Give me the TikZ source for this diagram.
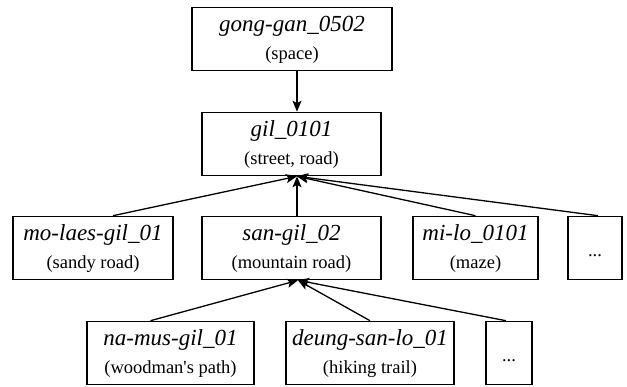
\documentclass[tikz,border=0pt]{standalone}
\usepackage{fontspec}
\setmainfont{Liberation Serif}
\newfontfamily\tnr{Liberation Serif}
\usetikzlibrary{arrows.meta}
\tikzset{
  box/.style={draw, line width=1.6pt, rectangle, minimum height=63pt, inner sep=0pt},
  ttl/.style={anchor=base, inner sep=0pt, font=\tnr\fontsize{23}{23}\selectfont\itshape},
  sub/.style={anchor=base, inner sep=0pt, font=\tnr\fontsize{18.5}{18.5}\selectfont},
  dotsl/.style={anchor=base, inner sep=0pt, font=\tnr\fontsize{18.5}{18.5}\selectfont},
  conn/.style={line width=1.3pt, -{Stealth[length=11pt,width=9pt,inset=2.5pt]}}
}
\newcommand\tbox[6]{%
  \node[box, minimum width=#4pt] (#1) at (#2,#3) {};
  \node[ttl] (#1-t) at ([yshift=7.5pt]#1.center) {#5};
  \node[sub] (#1-s) at ([yshift=-20pt]#1.center) {#6};
}
\newcommand\dbox[4]{%
  \node[box, minimum width=#4pt] (#1) at (#2,#3) {};
  \node[dotsl] (#1-t) at ([yshift=-8pt]#1.center) {...};
}
\begin{document}
\begin{tikzpicture}[x=1pt,y=-1pt]
\useasboundingbox (0,0) rectangle (627,386);
\tbox{top}{292}{39}{200}{gong-gan\_0502}{(space)}
\tbox{gil}{291.5}{144}{179}{gil\_0101}{(street, road)}
\tbox{mo}{93}{248}{160}{mo-laes-gil\_01}{(sandy road)}
\tbox{san}{291.5}{248}{179}{san-gil\_02}{(mountain road)}
\tbox{mi}{475.5}{248}{125}{mi-lo\_0101}{(maze)}
\dbox{dA}{595}{248}{54}
\tbox{na}{170.5}{353}{167}{na-mus-gil\_01}{(woodman\symbol{"0027}s path)}
\tbox{de}{370}{353}{168}{deung-san-lo\_01}{(hiking trail)}
\dbox{dB}{509}{353}{46}

\coordinate (gilIn) at ([xshift=5.5pt]gil.south);
\coordinate (sanIn) at ([xshift=6.5pt]san.south);
\draw[conn] ([xshift=5pt]top.south) -- ([xshift=5.5pt]gil.north);
\draw[conn] ([xshift=20pt]mo.north) -- (gilIn);
\draw[conn] ([xshift=5.5pt]san.north) -- (gilIn);
\draw[conn] (mi.north) -- (gilIn);
\draw[conn] ([xshift=3pt]dA.north) -- (gilIn);
\draw[conn] ([xshift=-20pt]na.north) -- (sanIn);
\draw[conn] (de.north) -- (sanIn);
\draw[conn] ([xshift=-3pt]dB.north) -- (sanIn);
\end{tikzpicture}
\end{document}
